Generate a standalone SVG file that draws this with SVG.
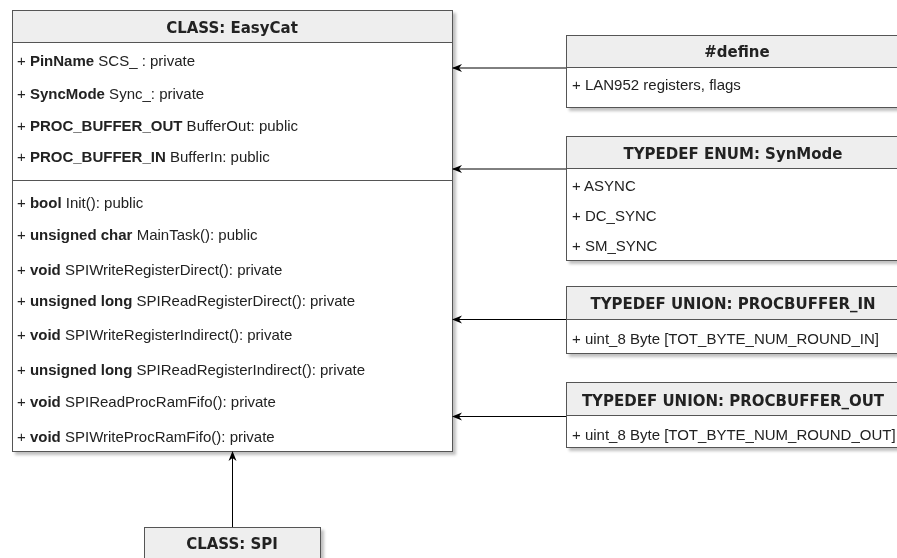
<svg xmlns="http://www.w3.org/2000/svg" width="897" height="558" viewBox="0 0 897 558">
<defs>
<filter id="sh" x="-10%" y="-10%" width="130%" height="130%">
<feGaussianBlur in="SourceAlpha" stdDeviation="1.5"/>
<feOffset dx="3" dy="3" result="b"/>
<feComponentTransfer><feFuncA type="linear" slope="0.25"/></feComponentTransfer>
<feMerge><feMergeNode/><feMergeNode in="SourceGraphic"/></feMerge>
</filter>
<marker id="arr" viewBox="0 0 10 10" refX="9" refY="5" markerWidth="10" markerHeight="10" markerUnits="userSpaceOnUse" orient="auto">
<path d="M0,1 L10,5 L0,9 L3,5 Z" fill="#000"/>
</marker>
</defs>
<style>
.box{fill:#fff;stroke:#555;stroke-width:1}
.hdr{fill:#eeeeee;stroke:#555;stroke-width:1}
.ht{font-family:"DejaVu Sans",sans-serif;font-weight:bold;font-size:15px;fill:#222;text-anchor:middle}
.rt{font-family:"Liberation Sans",Arial,sans-serif;font-size:15px;fill:#222}
.rt tspan.b{font-weight:bold}
.con{stroke:#000;stroke-width:1;fill:none;marker-end:url(#arr)}
</style>
<rect width="897" height="558" fill="#fff"/>

<g id="easycat" filter="url(#sh)">
<rect class="box" x="12.5" y="10.5" width="440" height="441"/>
<rect class="hdr" x="12.5" y="10.5" width="440" height="32"/>
<text class="ht" x="232" y="33">CLASS: EasyCat</text>
<line x1="12.5" y1="180.5" x2="452.5" y2="180.5" stroke="#555"/>
<text class="rt" x="17" y="66">+ <tspan class="b">PinName</tspan> SCS_ : private</text>
<text class="rt" x="17" y="99">+ <tspan class="b">SyncMode</tspan> Sync_: private</text>
<text class="rt" x="17" y="131">+ <tspan class="b">PROC_BUFFER_OUT</tspan> BufferOut: public</text>
<text class="rt" x="17" y="162">+ <tspan class="b">PROC_BUFFER_IN</tspan> BufferIn: public</text>
<text class="rt" x="17" y="208">+ <tspan class="b">bool</tspan> Init(): public</text>
<text class="rt" x="17" y="240">+ <tspan class="b">unsigned char</tspan> MainTask(): public</text>
<text class="rt" x="17" y="275">+ <tspan class="b">void</tspan> SPIWriteRegisterDirect(): private</text>
<text class="rt" x="17" y="306">+ <tspan class="b">unsigned long</tspan> SPIReadRegisterDirect(): private</text>
<text class="rt" x="17" y="340">+ <tspan class="b">void</tspan> SPIWriteRegisterIndirect(): private</text>
<text class="rt" x="17" y="375">+ <tspan class="b">unsigned long</tspan> SPIReadRegisterIndirect(): private</text>
<text class="rt" x="17" y="407">+ <tspan class="b">void</tspan> SPIReadProcRamFifo(): private</text>
<text class="rt" x="17" y="442">+ <tspan class="b">void</tspan> SPIWriteProcRamFifo(): private</text>
</g>

<g id="define" filter="url(#sh)">
<rect class="box" x="566.5" y="35.5" width="334" height="72"/>
<rect class="hdr" x="566.5" y="35.5" width="334" height="32"/>
<text class="ht" x="737" y="56.5">#define</text>
<text class="rt" x="572" y="90">+ LAN952 registers, flags</text>
</g>

<g id="synmode" filter="url(#sh)">
<rect class="box" x="566.5" y="136.5" width="334" height="124"/>
<rect class="hdr" x="566.5" y="136.5" width="334" height="32"/>
<text class="ht" x="733" y="159">TYPEDEF ENUM: SynMode</text>
<text class="rt" x="572" y="191">+ ASYNC</text>
<text class="rt" x="572" y="221">+ DC_SYNC</text>
<text class="rt" x="572" y="251">+ SM_SYNC</text>
</g>

<g id="procbuffer_in" filter="url(#sh)">
<rect class="box" x="566.5" y="286.5" width="334" height="67"/>
<rect class="hdr" x="566.5" y="286.5" width="334" height="33"/>
<text class="ht" x="733" y="309">TYPEDEF UNION: PROCBUFFER_IN</text>
<text class="rt" x="572" y="344">+ uint_8 Byte [TOT_BYTE_NUM_ROUND_IN]</text>
</g>

<g id="procbuffer_out" filter="url(#sh)">
<rect class="box" x="566.5" y="382.5" width="334" height="65"/>
<rect class="hdr" x="566.5" y="382.5" width="334" height="33"/>
<text class="ht" x="733" y="406">TYPEDEF UNION: PROCBUFFER_OUT</text>
<text class="rt" x="572" y="440">+ uint_8 Byte [TOT_BYTE_NUM_ROUND_OUT]</text>
</g>

<g id="spi" filter="url(#sh)">
<rect class="hdr" x="144.5" y="527.5" width="176" height="40"/>
<text class="ht" x="232" y="549">CLASS: SPI</text>
</g>

<g id="connectors">
<line class="con" x1="566" y1="68" x2="453" y2="68"/>
<line class="con" x1="566" y1="169" x2="453" y2="169"/>
<line class="con" x1="566" y1="319.5" x2="453" y2="319.5"/>
<line class="con" x1="566" y1="416.5" x2="453" y2="416.5"/>
<line class="con" x1="232.5" y1="527" x2="232.5" y2="452"/>
</g>
</svg>
